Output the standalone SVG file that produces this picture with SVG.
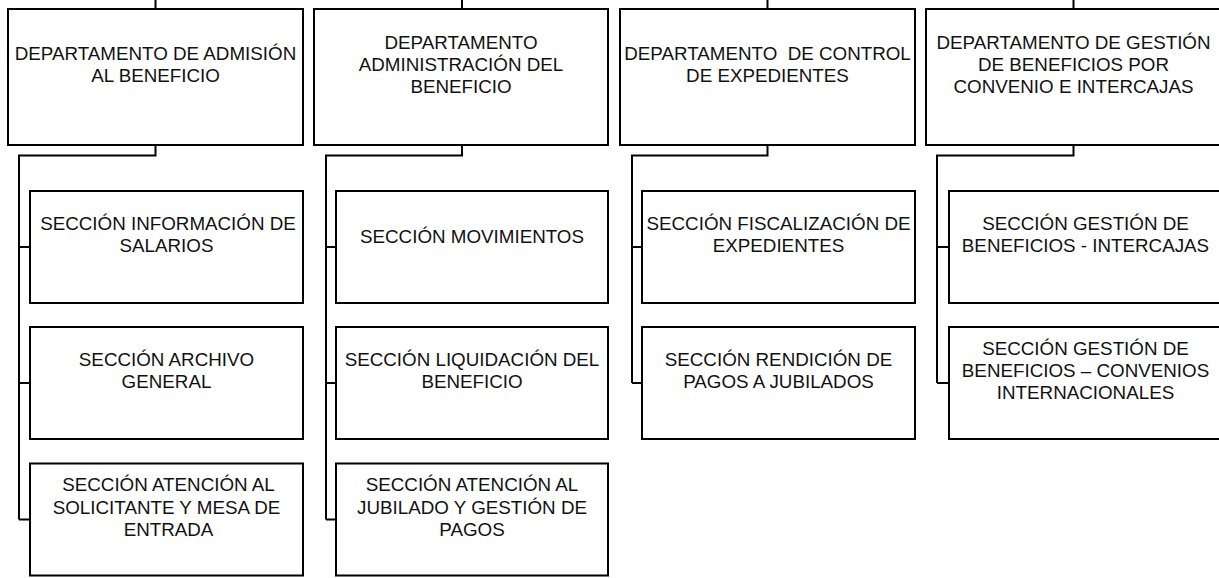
<svg xmlns="http://www.w3.org/2000/svg" width="1219" height="578" viewBox="0 0 1219 578">
<style>
.box{fill:#fff;stroke:#000;stroke-width:2}
.ln{fill:none;stroke:#000;stroke-width:2}
text{font-family:"Liberation Sans",Arial,sans-serif;font-size:18.8px;fill:#111;text-anchor:middle}
</style>
<rect width="1219" height="578" fill="#fff"/>
<g id="connectors">
<path class="ln" d="M155.5,0V9M462,0V9M767.5,0V9M1073.5,0V9"/>
<path class="ln" d="M155.5,145V155.5H19V519.5M19,247H30M19,383H30M19,519.5H30"/>
<path class="ln" d="M462,145V155.5H326V519.5M326,247H336M326,383H336M326,519.5H336"/>
<path class="ln" d="M767.5,145V155.5H632V383M632,247H642M632,383H642"/>
<path class="ln" d="M1073.5,145V155.5H937V383M937,247H949M937,383H949"/>
</g>
<g id="dept1"><rect class="box" x="8" y="9" width="295" height="136"/>
<text x="155.5" y="59.8">DEPARTAMENTO DE ADMISIÓN</text><text x="155.5" y="82.2">AL BENEFICIO</text></g>
<g id="dept2"><rect class="box" x="314" y="9" width="294" height="136"/>
<text x="461" y="48.6">DEPARTAMENTO</text><text x="461" y="71">ADMINISTRACIÓN DEL</text><text x="461" y="93.4">BENEFICIO</text></g>
<g id="dept3"><rect class="box" x="620" y="9" width="295" height="136"/>
<text x="767.5" y="59.8" xml:space="preserve">DEPARTAMENTO  DE CONTROL</text><text x="767.5" y="82.2">DE EXPEDIENTES</text></g>
<g id="dept4"><rect class="box" x="926" y="9" width="295" height="136"/>
<text x="1073.5" y="48.6">DEPARTAMENTO DE GESTIÓN</text><text x="1073.5" y="71">DE BENEFICIOS POR</text><text x="1073.5" y="93.4">CONVENIO E INTERCAJAS</text></g>
<g id="sec1a"><rect class="box" x="30" y="191" width="273" height="112"/>
<text x="168" y="229.8">SECCIÓN INFORMACIÓN DE</text><text x="166.5" y="252.2">SALARIOS</text></g>
<g id="sec1b"><rect class="box" x="30" y="327" width="273" height="112"/>
<text x="166.5" y="365.8">SECCIÓN ARCHIVO</text><text x="166.5" y="388.2">GENERAL</text></g>
<g id="sec1c"><rect class="box" x="30" y="463.5" width="273" height="112"/>
<text x="168.5" y="491.1">SECCIÓN ATENCIÓN AL</text><text x="166.5" y="513.5">SOLICITANTE Y MESA DE</text><text x="168.5" y="535.9">ENTRADA</text></g>
<g id="sec2a"><rect class="box" x="336" y="191" width="272" height="112"/>
<text x="472" y="243">SECCIÓN MOVIMIENTOS</text></g>
<g id="sec2b"><rect class="box" x="336" y="327" width="272" height="112"/>
<text x="472" y="365.8">SECCIÓN LIQUIDACIÓN DEL</text><text x="472" y="388.2">BENEFICIO</text></g>
<g id="sec2c"><rect class="box" x="336" y="463.5" width="272" height="112"/>
<text x="472" y="491.1">SECCIÓN ATENCIÓN AL</text><text x="472" y="513.5">JUBILADO Y GESTIÓN DE</text><text x="472" y="535.9">PAGOS</text></g>
<g id="sec3a"><rect class="box" x="642" y="191" width="273" height="112"/>
<text x="778.5" y="229.8">SECCIÓN FISCALIZACIÓN DE</text><text x="778.5" y="252.2">EXPEDIENTES</text></g>
<g id="sec3b"><rect class="box" x="642" y="327" width="273" height="112"/>
<text x="778.5" y="365.8">SECCIÓN RENDICIÓN DE</text><text x="778.5" y="388.2">PAGOS A JUBILADOS</text></g>
<g id="sec4a"><rect class="box" x="949" y="191" width="273" height="112"/>
<text x="1085.5" y="229.8">SECCIÓN GESTIÓN DE</text><text x="1085.5" y="252.2">BENEFICIOS - INTERCAJAS</text></g>
<g id="sec4b"><rect class="box" x="949" y="327" width="273" height="112"/>
<text x="1085.5" y="354.6">SECCIÓN GESTIÓN DE</text><text x="1085.5" y="377">BENEFICIOS – CONVENIOS</text><text x="1085.5" y="399.4">INTERNACIONALES</text></g>
</svg>
